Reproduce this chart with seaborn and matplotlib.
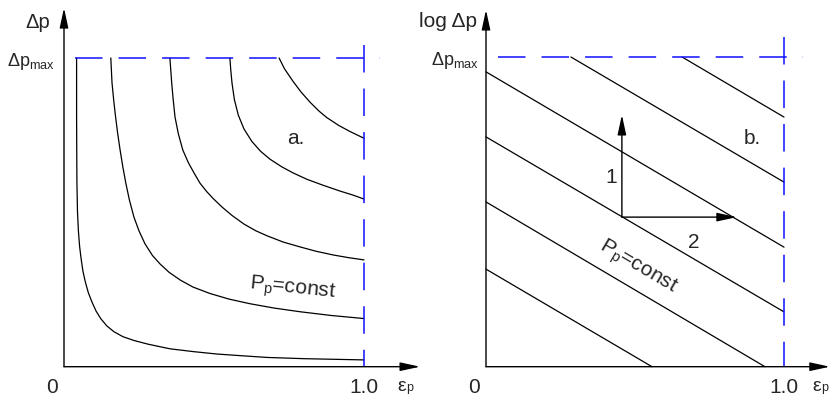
import numpy as np
import pandas as pd
import matplotlib
matplotlib.use("Agg")
import matplotlib.pyplot as plt
import seaborn as sns

# ---- data -------------------------------------------------------------
# Left panel: constant-power curves, Δp (normalised to Δp_max) vs ε_p
curve1_x = [0.042, 0.042, 0.043, 0.045, 0.048, 0.052, 0.057, 0.063, 0.071, 0.081, 0.093,
            0.107, 0.123, 0.143, 0.167, 0.197, 0.233, 0.280, 0.353, 0.430, 0.510, 0.600,
            0.677, 0.800, 0.900, 1.000]
curve1_y = [1.000, 0.800, 0.600, 0.500, 0.440, 0.390, 0.350, 0.310, 0.275, 0.240, 0.210,
            0.180, 0.155, 0.132, 0.113, 0.097, 0.085, 0.073, 0.058, 0.049, 0.041, 0.035,
            0.030, 0.026, 0.024, 0.022]
curve2_x = [0.156, 0.160, 0.166, 0.172, 0.179, 0.187, 0.196, 0.206, 0.218, 0.233, 0.250,
            0.270, 0.295, 0.320, 0.350, 0.387, 0.430, 0.487, 0.550, 0.620, 0.700, 0.787,
            0.890, 1.000]
curve2_y = [1.000, 0.920, 0.860, 0.809, 0.755, 0.702, 0.648, 0.595, 0.540, 0.485, 0.440,
            0.398, 0.360, 0.333, 0.306, 0.281, 0.258, 0.237, 0.219, 0.204, 0.190, 0.178,
            0.166, 0.156]
curve3_x = [0.353, 0.356, 0.359, 0.364, 0.370, 0.381, 0.396, 0.415, 0.435, 0.453, 0.475,
            0.497, 0.527, 0.560, 0.600, 0.640, 0.677, 0.730, 0.787, 0.840, 0.897, 0.950,
            1.000]
curve3_y = [1.000, 0.960, 0.919, 0.865, 0.809, 0.755, 0.702, 0.660, 0.625, 0.595, 0.568,
            0.545, 0.517, 0.490, 0.462, 0.440, 0.424, 0.404, 0.388, 0.374, 0.362, 0.353,
            0.346]
curve4_x = [0.553, 0.556, 0.560, 0.568, 0.581, 0.600, 0.626, 0.655, 0.687, 0.725, 0.763,
            0.810, 0.863, 0.920, 0.963, 1.000]
curve4_y = [1.000, 0.960, 0.919, 0.865, 0.815, 0.770, 0.730, 0.698, 0.672, 0.648, 0.628,
            0.607, 0.588, 0.569, 0.556, 0.543]
curve5_x = [0.717, 0.735, 0.763, 0.790, 0.820, 0.850, 0.876, 0.915, 0.953, 1.000]
curve5_y = [1.000, 0.965, 0.925, 0.890, 0.857, 0.828, 0.807, 0.782, 0.762, 0.740]

# Right panel: the same family on a log Δp scale (straight lines)
line_x_start = [0.000, 0.000, 0.000, 0.000, 0.285, 0.658]
line_y_start = [0.315, 0.532, 0.742, 0.952, 1.000, 1.000]
line_x_end = [0.557, 0.936, 1.000, 1.000, 1.000, 1.000]
line_y_end = [0.000, 0.000, 0.177, 0.386, 0.596, 0.806]

x_ticks = ["0", "1.0"]

# ---- style ------------------------------------------------------------
sns.set_theme(style="white")
plt.rcParams["font.family"] = ["Liberation Sans", "DejaVu Sans"]
plt.rcParams["mathtext.fontset"] = "custom"
plt.rcParams["mathtext.rm"] = "Liberation Sans"
plt.rcParams["mathtext.it"] = "Liberation Sans:italic"
plt.rcParams["mathtext.bf"] = "Liberation Sans:bold"

BLUE = "#1010ff"
INK = "black"
FS = 15

fig = plt.figure(figsize=(8.32, 3.98), dpi=100)
axL = fig.add_axes([64 / 832, 31.3 / 398, 300 / 832, 308.7 / 398])
axR = fig.add_axes([486 / 832, 31.3 / 398, 298 / 832, 309.7 / 398])

left_df = pd.concat([
    pd.DataFrame({"eps": xs, "dp": ys, "curve": i})
    for i, (xs, ys) in enumerate([(curve1_x, curve1_y), (curve2_x, curve2_y),
                                  (curve3_x, curve3_y), (curve4_x, curve4_y),
                                  (curve5_x, curve5_y)])
])
right_df = pd.concat([
    pd.DataFrame({"eps": [x0, x1], "logdp": [y0, y1], "line": i})
    for i, (x0, y0, x1, y1) in enumerate(zip(line_x_start, line_y_start, line_x_end, line_y_end))
])

sns.lineplot(data=left_df, x="eps", y="dp", units="curve", estimator=None, sort=False,
             color=INK, lw=0.9, ax=axL, legend=False)
sns.lineplot(data=right_df, x="eps", y="logdp", units="line", estimator=None, sort=False,
             color=INK, lw=0.9, ax=axR, legend=False)
for ln in axL.lines:
    ln.set_solid_joinstyle("round")


def frame(ax, x_tip, y_tip, hx0, hx1, vy1, eps_x):
    ax.set_xlim(0, 1)
    ax.set_ylim(0, 1)
    ax.axis("off")
    for ln in ax.lines:
        ln.set_clip_on(False)
    arrow = dict(arrowstyle="-|>,head_length=0.6,head_width=0.13", color=INK, lw=1.0,
                 mutation_scale=20, shrinkA=0, shrinkB=0)
    ax.annotate("", xy=(x_tip, 0), xytext=(0, 0), arrowprops=arrow, annotation_clip=False)
    ax.annotate("", xy=(0, y_tip), xytext=(0, 0), arrowprops=arrow, annotation_clip=False)
    # Δp_max level and ε_p = 1.0 limit
    ax.plot([hx0, hx1], [1, 1], color=BLUE, lw=1.1, dashes=(18, 10.5), clip_on=False)
    ax.plot([1, 1], [vy1, 0], color=BLUE, lw=1.1, dashes=(18, 10.5), clip_on=False)
    ax.text(-0.04, -0.085, x_ticks[0], fontsize=FS, ha="center", va="baseline")
    ax.text(1.0, -0.085, x_ticks[1], fontsize=FS, ha="center", va="baseline")
    # ε_p axis name, small "p" on the same baseline
    ax.text(eps_x, -0.078, "ε", fontsize=14, ha="left", va="baseline")
    ax.text(eps_x + 0.032, -0.078, "p", fontsize=9, ha="left", va="baseline")


frame(axL, 1.187, 1.162, 0.037, 1.053, 1.042, 1.110)
frame(axR, 1.154, 1.152, 0.040, 1.064, 1.065, 1.094)

# left panel labels
axL.text(-0.047, 1.097, "Δp", fontsize=14.5, ha="right", va="baseline")
axL.text(-0.03, 0.974, r"Δp$_{\mathrm{max}}$", fontsize=13, ha="right", va="baseline")
axL.text(0.745, 0.72, "a.", fontsize=FS, ha="left", va="baseline")
axL.text(0.763, 0.252, r"P$_{\mathrm{p}}$=const", fontsize=FS, ha="center", va="center",
         rotation=-6)

# right panel labels
axR.text(-0.03, 1.097, "log Δp", fontsize=FS, ha="right", va="baseline")
axR.text(-0.023, 0.974, r"Δp$_{\mathrm{max}}$", fontsize=13, ha="right", va="baseline")
axR.text(0.866, 0.719, "b.", fontsize=FS, ha="left", va="baseline")
axR.text(0.419, 0.594, "1", fontsize=FS, ha="center", va="baseline")
axR.text(0.698, 0.384, "2", fontsize=FS, ha="center", va="baseline")
axR.text(0.51, 0.319, r"P$_{\mathrm{p}}$=const", fontsize=FS, ha="center", va="center",
         rotation=-30.5)

# direction arrows from a point on the third line
small = dict(arrowstyle="-|>,head_length=0.6,head_width=0.13", color=INK, lw=1.0,
             mutation_scale=20, shrinkA=0, shrinkB=0)
axR.annotate("", xy=(0.456, 0.813), xytext=(0.456, 0.483), arrowprops=small)
axR.annotate("", xy=(0.842, 0.483), xytext=(0.456, 0.483), arrowprops=small)

fig.savefig("out.png", dpi=100)
